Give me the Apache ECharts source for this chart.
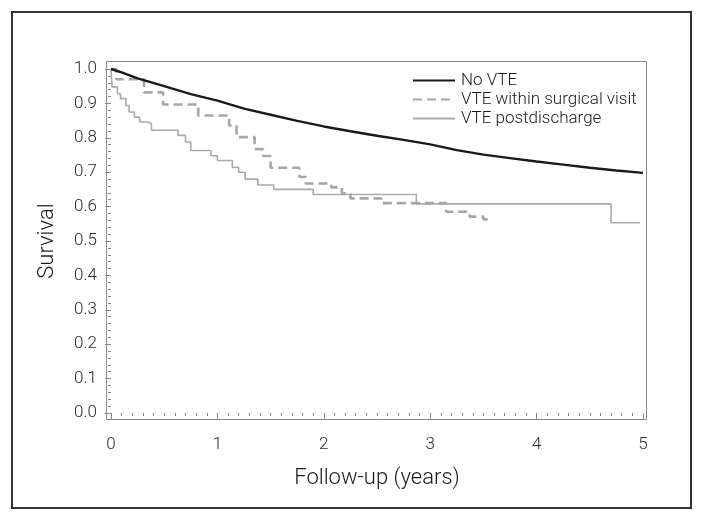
<!DOCTYPE html>
<html>
<head>
<meta charset="utf-8">
<script src="https://cdn.jsdelivr.net/npm/echarts@6/dist/echarts.min.js"></script>
<style>
html,body{margin:0;padding:0;background:#fff;}
#chart{width:703px;height:522px;}
</style>
</head>
<body>
<div id="chart"></div>
<script>
// ---- data ----
var seriesNames = ['No VTE', 'VTE within surgical visit', 'VTE postdischarge'];

var noVteTime = [0, 0.1, 0.25, 0.5, 0.75, 1.0, 1.25, 1.5, 1.75, 2.0, 2.25, 2.5, 2.75, 3.0, 3.25, 3.5, 3.75, 4.0, 4.25, 4.5, 4.75, 5.0];
var noVteSurv = [1.0, 0.99, 0.973, 0.95, 0.927, 0.908, 0.885, 0.867, 0.849, 0.833, 0.819, 0.806, 0.794, 0.781, 0.764, 0.751, 0.741, 0.731, 0.722, 0.713, 0.705, 0.698];

var surgTime = [0, 0.05, 0.31, 0.49, 0.82, 1.11, 1.18, 1.35, 1.43, 1.5, 1.77, 1.83, 2.07, 2.17, 2.25, 2.54, 3.15, 3.37, 3.5, 3.56];
var surgSurv = [1.0, 0.97, 0.932, 0.897, 0.865, 0.836, 0.802, 0.767, 0.747, 0.713, 0.686, 0.667, 0.656, 0.639, 0.624, 0.610, 0.585, 0.571, 0.563, 0.563];

var postTime = [0, 0.01, 0.06, 0.09, 0.14, 0.17, 0.22, 0.27, 0.35, 0.38, 0.63, 0.70, 0.75, 0.94, 1.0, 1.14, 1.2, 1.26, 1.38, 1.53, 1.90, 2.87, 4.70, 4.97];
var postSurv = [1.0, 0.948, 0.928, 0.914, 0.894, 0.875, 0.86, 0.846, 0.841, 0.822, 0.807, 0.788, 0.763, 0.748, 0.734, 0.714, 0.70, 0.68, 0.663, 0.650, 0.635, 0.608, 0.553, 0.553];

var xTicks = [0, 1, 2, 3, 4, 5];
var yTicks = [0.0, 0.1, 0.2, 0.3, 0.4, 0.5, 0.6, 0.7, 0.8, 0.9, 1.0];

function zip(a, b) { return a.map(function (v, i) { return [v, b[i]]; }); }

var FONT = 'Roboto, "Liberation Sans", sans-serif';
var chart = echarts.init(document.getElementById('chart'), null, {renderer: 'canvas'});

chart.setOption({
  animation: false,
  backgroundColor: '#fff',
  grid: {left: 111, right: 60, top: 69, bottom: 109, containLabel: false},
  xAxis: {
    type: 'value',
    min: xTicks[0], max: xTicks[xTicks.length - 1], interval: 1,
    offset: 8,
    axisLine: {show: false},
    axisTick: {show: true, length: 6, lineStyle: {color: '#888', width: 1}},
    minorTick: {show: true, splitNumber: 10, length: 3, lineStyle: {color: '#888', width: 1}},
    splitLine: {show: false},
    axisLabel: {fontFamily: FONT, fontWeight: 300, fontSize: 17, color: '#2a2a2a', margin: 15},
    name: 'Follow-up (years)',
    nameLocation: 'middle',
    nameGap: 46,
    nameTextStyle: {fontFamily: FONT, fontWeight: 300, fontSize: 22, color: '#1a1a1a'}
  },
  yAxis: {
    type: 'value',
    min: yTicks[0], max: yTicks[yTicks.length - 1], interval: 0.1,
    offset: 5,
    axisLine: {show: false},
    axisTick: {show: true, length: 6, lineStyle: {color: '#888', width: 1}},
    minorTick: {show: true, splitNumber: 5, length: 3, lineStyle: {color: '#888', width: 1}},
    splitLine: {show: false},
    axisLabel: {fontFamily: FONT, fontWeight: 300, fontSize: 17, color: '#2a2a2a', margin: 9,
      formatter: function (v) { return v.toFixed(1); }},
    name: 'Survival',
    nameLocation: 'middle',
    nameGap: 48,
    nameTextStyle: {fontFamily: FONT, fontWeight: 300, fontSize: 22, color: '#1a1a1a'}
  },
  legend: {
    orient: 'vertical',
    left: 407, top: 66,
    itemWidth: 42, itemHeight: 10, itemGap: 0,
    data: seriesNames,
    itemStyle: {opacity: 0},
    textStyle: {fontFamily: FONT, fontWeight: 300, fontSize: 17, lineHeight: 19, color: '#1a1a1a', padding: [0, 0, 0, 1]}
  },
  graphic: [
    {type: 'rect', silent: true, z: 0, shape: {x: 12, y: 12, width: 679, height: 496},
     style: {fill: 'none', stroke: '#333', lineWidth: 2}},
    {type: 'rect', silent: true, z: 100, shape: {x: 106.5, y: 61.5, width: 540, height: 358},
     style: {fill: 'none', stroke: '#888', lineWidth: 1}}
  ],
  series: [
    {
      name: seriesNames[2], type: 'line', step: 'end', symbol: 'none', z: 3,
      data: zip(postTime, postSurv),
      lineStyle: {color: '#aaa', width: 1.6, type: 'solid'},
      itemStyle: {color: '#aaa'}
    },
    {
      name: seriesNames[1], type: 'line', step: 'end', symbol: 'none', z: 4,
      data: zip(surgTime, surgSurv),
      lineStyle: {color: '#a6a6a6', width: 2.6, type: [9, 5]},
      itemStyle: {color: '#a6a6a6'}
    },
    {
      name: seriesNames[0], type: 'line', symbol: 'none', z: 5,
      data: zip(noVteTime, noVteSurv),
      lineStyle: {color: '#1a1a1a', width: 2.4, type: 'solid'},
      itemStyle: {color: '#1a1a1a'}
    }
  ]
});
</script>
</body>
</html>
